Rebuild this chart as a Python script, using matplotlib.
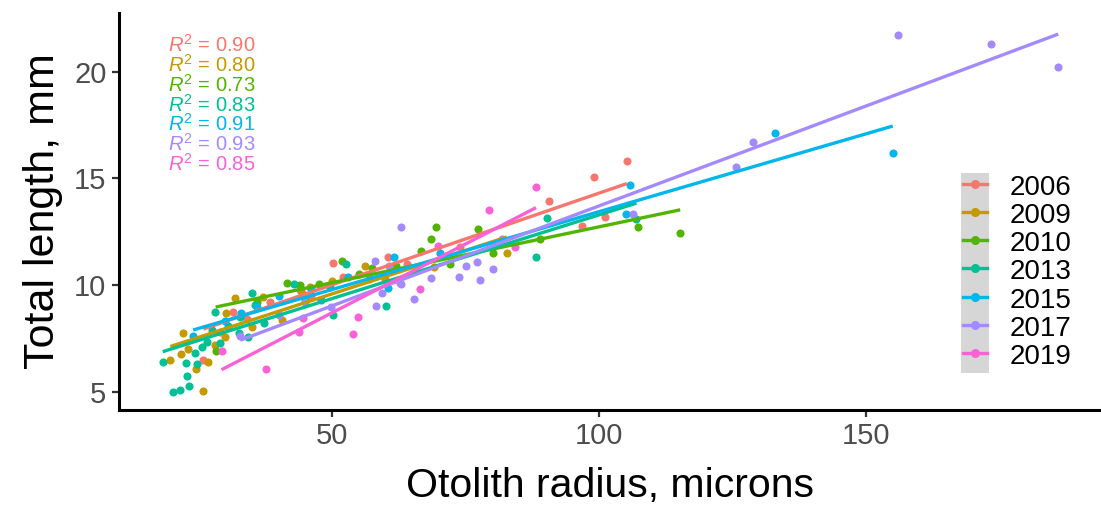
import numpy as np
import matplotlib.pyplot as plt
from matplotlib.lines import Line2D
from matplotlib.patches import Rectangle

plt.rcParams['font.family'] = ['Liberation Sans', 'DejaVu Sans']
plt.rcParams['mathtext.fontset'] = 'custom'
plt.rcParams['mathtext.rm'] = 'Liberation Sans'
plt.rcParams['mathtext.it'] = 'Liberation Sans:italic'

# data (otolith radius in microns, total length in mm)
x_2006 = [25.9, 29.0, 31.5, 34.0, 38.3, 44.0, 46.0, 50.1, 52.1, 57.0, 60.4, 62.7, 64.0,
          74.0, 90.6, 96.8, 99.1, 101.1, 105.2]
y_2006 = [6.49, 7.8, 8.75, 8.4, 9.22, 9.77, 9.5, 11.02, 10.39, 10.3, 11.30, 10.08, 11.0,
          11.8, 13.95, 12.78, 15.05, 13.2, 15.83]

x_2009 = [19.7, 21.7, 22.0, 23.0, 24.5, 25.9, 26.7, 28.0, 30.0, 30.1, 31.8, 35.0, 37.1,
          40.7, 44.3, 45.9, 50.0, 56.2, 60.0, 69.0, 82.7]
y_2009 = [6.49, 6.75, 7.74, 7.0, 6.05, 5.03, 6.41, 7.2, 7.58, 8.70, 9.38, 8.02, 9.45,
          8.36, 9.61, 9.92, 10.2, 10.89, 10.3, 10.86, 11.49]

x_2010 = [28.2, 36.0, 41.5, 44.0, 47.6, 51.9, 55.0, 57.4, 62.0, 66.7, 68.5, 69.4, 72.0,
          77.4, 80.2, 88.9, 107.2, 115.2]
y_2010 = [6.92, 9.2, 10.08, 10.0, 10.03, 11.14, 10.5, 10.79, 10.9, 11.6, 12.14, 12.71, 11.0,
          12.61, 11.52, 12.16, 12.74, 12.46]

x_2013 = [18.3, 20.3, 21.5, 22.6, 22.8, 23.2, 24.3, 24.7, 25.7, 26.5, 27.5, 28.1, 29.0,
          30.5, 32.5, 32.8, 34.3, 35.0, 35.6, 37.3, 42.8, 45.0, 49.6, 50.2, 52.7, 60.1,
          88.1, 90.2, 107.0]
y_2013 = [6.41, 5.0, 5.08, 6.33, 5.74, 5.28, 6.83, 6.3, 7.11, 7.34, 7.9, 8.75, 7.27,
          8.1, 7.74, 8.52, 7.58, 9.61, 9.07, 8.21, 10.05, 9.3, 9.92, 8.60, 10.99, 9.02,
          11.33, 13.13, 13.08]

x_2015 = [24.0, 30.0, 33.0, 35.9, 40.0, 46.0, 48.0, 53.0, 60.5, 61.6, 70.2, 105.1, 105.8,
          133.0, 155.0]
y_2015 = [7.6, 8.3, 8.7, 8.98, 9.5, 9.8, 9.3, 10.4, 9.88, 11.30, 11.49, 13.33, 14.69,
          17.14, 16.2]

x_2017 = [32.8, 40.0, 45.0, 49.8, 58.0, 58.2, 59.3, 60.7, 62.9, 63.0, 65.4, 68.5, 73.8,
          75.0, 77.2, 77.7, 80.2, 81.8, 106.3, 125.6, 128.9, 155.9, 173.4, 186.0]
y_2017 = [7.6, 8.6, 9.2, 8.98, 11.14, 9.02, 9.64, 10.89, 12.71, 10.03, 9.33, 10.32, 10.36,
          10.91, 11.10, 10.24, 10.75, 12.16, 13.33, 15.55, 16.72, 21.72, 21.29, 20.24]

x_2019 = [29.3, 37.6, 43.8, 44.6, 54.0, 54.8, 66.5, 69.9, 79.3, 84.3, 88.2]
y_2019 = [6.9, 6.06, 7.81, 8.44, 7.70, 8.49, 9.81, 11.83, 13.52, 11.77, 14.58]

years = ['2006', '2009', '2010', '2013', '2015', '2017', '2019']
r2_labels = ['0.90', '0.80', '0.73', '0.83', '0.91', '0.93', '0.85']
slopes = [0.086, 0.0815, 0.0524, 0.0785, 0.073, 0.0937, 0.129]
intercepts = [5.71, 5.51, 7.49, 5.44, 6.14, 4.34, 2.25]

xs_all = [x_2006, x_2009, x_2010, x_2013, x_2015, x_2017, x_2019]
ys_all = [y_2006, y_2009, y_2010, y_2013, y_2015, y_2017, y_2019]
colors = ['#F8766D', '#C49A00', '#53B400', '#00C094', '#00B6EB', '#A58AFF', '#FB61D7']

fig = plt.figure(figsize=(11.01, 5.25), dpi=100)
ax = fig.add_axes([119 / 1101, 115 / 525, 982 / 1101, 397.3 / 525])

for xs, ys, c in zip(xs_all, ys_all, colors):
    ax.scatter(xs, ys, s=34, color=c, linewidths=0, zorder=2)

for xs, m, b, c in zip(xs_all, slopes, intercepts, colors):
    xr = np.array([min(xs), max(xs)])
    ax.plot(xr, b + m * xr, color=c, lw=2.4, zorder=3, solid_capstyle='butt')

ax.set_xlim(10.1, 194.0)
ax.set_ylim(4.14, 22.77)
ax.set_xticks([50, 100, 150])
ax.set_yticks([5, 10, 15, 20])

for s in ['top', 'right']:
    ax.spines[s].set_visible(False)
for s in ['left', 'bottom']:
    ax.spines[s].set_linewidth(2.2)
    ax.spines[s].set_color('black')
ax.tick_params(length=5, width=1.6, color='#333333', labelsize=21,
               labelcolor='#4D4D4D', pad=4)

ax.set_xlabel('Otolith radius, microns', fontsize=29.5, labelpad=12)
ax.set_ylabel('Total length, mm', fontsize=31, labelpad=8)

# R^2 labels, top left
for i, (lab, c) in enumerate(zip(r2_labels, colors)):
    py = 52 + 19.8 * i
    ax.text(0.0496, (410 - py) / 397.3, r'$R^2$ = ' + lab, transform=ax.transAxes,
            color=c, fontsize=14.5, va='baseline', ha='left')

# grey key column behind legend (se ribbon fill in ggplot keys)
ax.add_patch(Rectangle((960.7 / 1101, (525 - 373.3) / 525), 28.3 / 1101, 200.6 / 525,
                       transform=fig.transFigure, facecolor='#D6D6D6', edgecolor='none',
                       zorder=4, clip_on=False))
handles = [Line2D([], [], color=c, lw=2.4, marker='o', markersize=5.5) for c in colors]
leg = ax.legend(handles, years, loc='upper left',
                bbox_to_anchor=(962.5 / 1101, (525 - 172.7) / 525),
                bbox_transform=fig.transFigure, frameon=False, fontsize=20,
                handlelength=0.88, handleheight=1.03, labelspacing=0.0,
                handletextpad=0.82, borderpad=0, borderaxespad=0, numpoints=1)
leg.set_zorder(5)

fig.savefig('out.png', dpi=100)
